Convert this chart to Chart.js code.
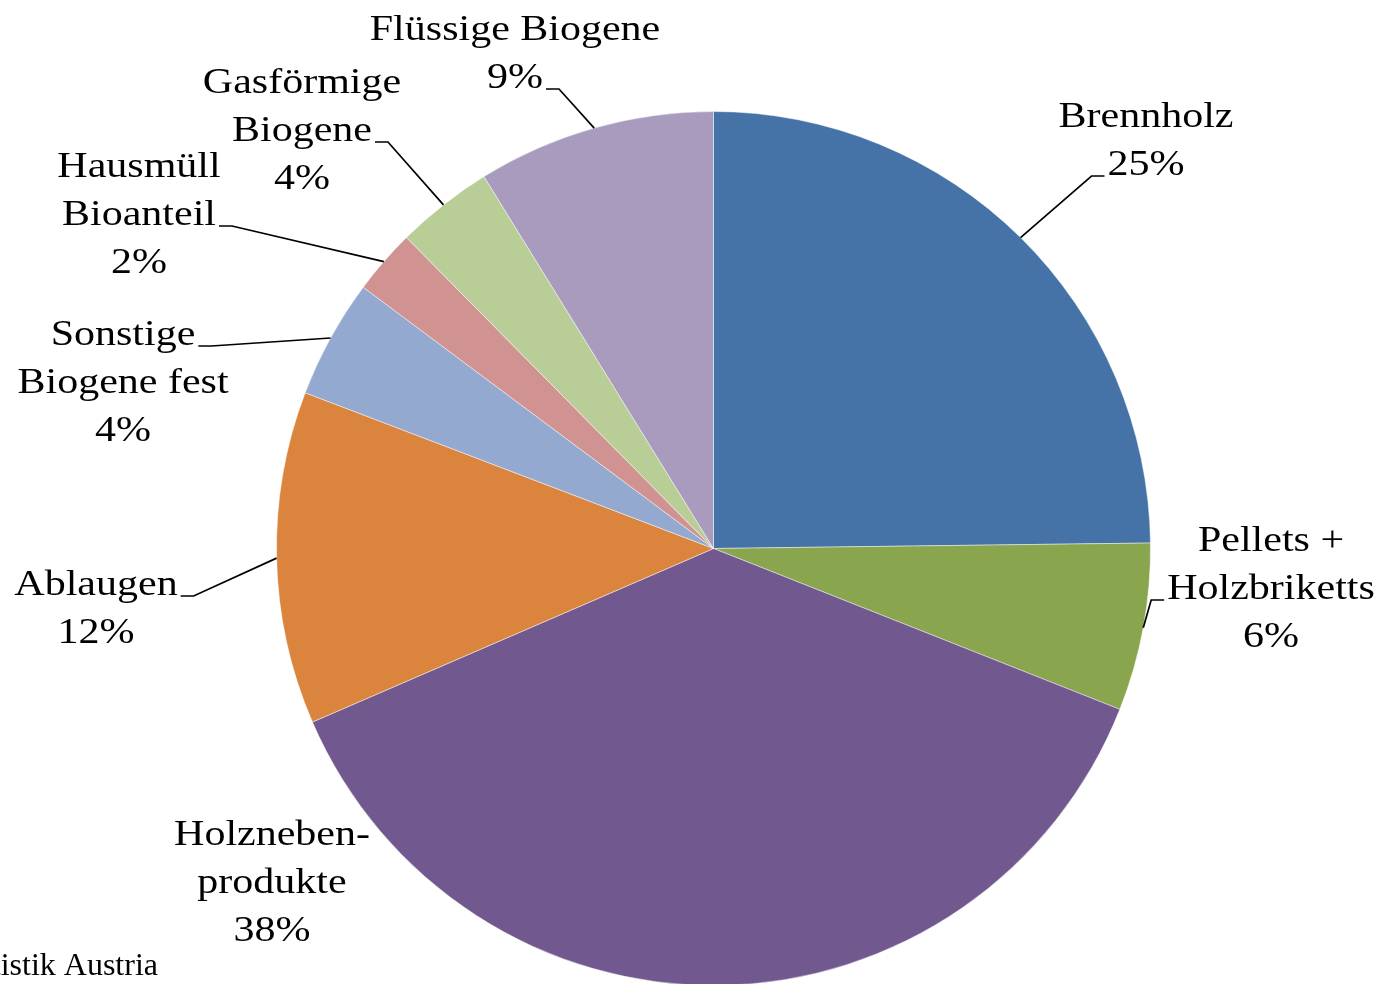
<!DOCTYPE html>
<html>
<head>
<meta charset="utf-8">
<script src="https://cdn.jsdelivr.net/npm/chart.js@4.4.0/dist/chart.umd.min.js"></script>
<style>
  html, body { margin: 0; padding: 0; background: #fff; overflow: hidden; }
  #wrap { width: 1385px; height: 1000px; }
</style>
</head>
<body>
<div id="wrap"><canvas id="pieChart" width="1385" height="1000"></canvas></div>
<script>
// Biogene Energieträger - Anteile
const categories = ['Brennholz', 'Pellets + Holzbriketts', 'Holznebenprodukte', 'Ablaugen',
  'Sonstige Biogene fest', 'Hausmüll Bioanteil', 'Gasförmige Biogene', 'Flüssige Biogene'];
const shares = [24.8, 6.2, 37.5, 12.3, 4.4, 2.4, 3.6, 8.8];
const labelText = [
  ['Brennholz'],
  ['Pellets +', 'Holzbriketts'],
  ['Holzneben-', 'produkte'],
  ['Ablaugen'],
  ['Sonstige', 'Biogene fest'],
  ['Hausmüll', 'Bioanteil'],
  ['Gasförmige', 'Biogene'],
  ['Flüssige Biogene']
];
const colors = ['#4572A7', '#89A54E', '#71588F', '#DB843D', '#93A9CF', '#D19392', '#B9CD96', '#A99BBD'];

// where each label sits (center x, first baseline) and which line gets the leader
const labelPlacement = [
  { x: 1146, y: 127, attach: 1, side: 'left' },
  { x: 1271, y: 551, attach: 1, side: 'left' },
  { x: 272, y: 845, attach: -1 },
  { x: 96, y: 595, attach: 0, side: 'right' },
  { x: 123, y: 345, attach: 0, side: 'right' },
  { x: 139, y: 177, attach: 1, side: 'right' },
  { x: 302, y: 93, attach: 1, side: 'right' },
  { x: 515, y: 40, attach: 1, side: 'right' }
];

const FONT = '35px "Liberation Serif", "Times New Roman", serif';
const STRETCH = 1.2;
const LINE_H = 48;

const outsideLabels = {
  id: 'outsideLabels',
  afterDraw(chart) {
    const ctx = chart.ctx;
    const meta = chart.getDatasetMeta(0);
    const total = shares.reduce((a, b) => a + b, 0);
    ctx.save();
    ctx.font = FONT;
    ctx.fillStyle = '#000';
    ctx.textBaseline = 'alphabetic';
    ctx.textAlign = 'center';
    meta.data.forEach((arc, i) => {
      const pos = labelPlacement[i];
      const lines = labelText[i].concat([Math.round(shares[i] / total * 100) + '%']);
      lines.forEach((t, j) => {
        ctx.save();
        ctx.translate(pos.x, pos.y + j * LINE_H);
        ctx.scale(STRETCH, 1);
        ctx.fillText(t, 0, 0);
        ctx.restore();
      });
      if (pos.attach < 0) return;
      // leader line from slice middle to the label
      const p = arc.getProps(['x', 'y', 'startAngle', 'endAngle', 'outerRadius'], true);
      const mid = (p.startAngle + p.endAngle) / 2;
      const ax = p.x + Math.cos(mid) * p.outerRadius;
      const ay = p.y + Math.sin(mid) * p.outerRadius;
      const w = ctx.measureText(lines[pos.attach]).width * STRETCH;
      const ly = pos.y + pos.attach * LINE_H + 1;
      const dir = pos.side === 'left' ? -1 : 1;
      const x0 = pos.x + dir * (w / 2 + 3);
      const x1 = x0 + dir * 13;
      ctx.beginPath();
      ctx.moveTo(x0, ly);
      ctx.lineTo(x1, ly);
      ctx.lineTo(ax, ay);
      ctx.strokeStyle = '#000';
      ctx.lineWidth = 1.7;
      ctx.stroke();
    });
    // source note
    ctx.font = '32px "Liberation Serif", "Times New Roman", serif';
    ctx.textAlign = 'right';
    ctx.fillText('Quelle: Statistik Austria', 158, 975);
    ctx.restore();
  }
};

const ctx = document.getElementById('pieChart').getContext('2d');
new Chart(ctx, {
  type: 'pie',
  data: {
    labels: categories,
    datasets: [{
      data: shares,
      backgroundColor: colors,
      borderColor: 'rgba(255,255,255,0.45)',
      borderWidth: 1
    }]
  },
  options: {
    responsive: false,
    animation: false,
    layout: {
      padding: { left: 276, right: 234, top: 111, bottom: 14 }
    },
    plugins: {
      legend: { display: false },
      tooltip: { enabled: false }
    }
  },
  plugins: [outsideLabels]
});
</script>
</body>
</html>
